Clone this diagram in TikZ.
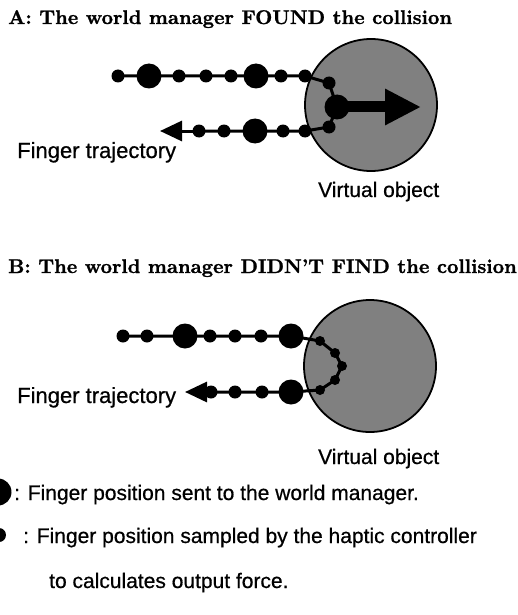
\documentclass[tikz,border=0pt]{standalone}
\usepackage{fontspec}
\newfontfamily\arialf{Liberation Sans}[FakeBold=0.6]
\newfontface\titlef{lmroman10-bold.otf}[FakeBold=1.2]
\usetikzlibrary{arrows.meta}
\definecolor{objgray}{RGB}{128,128,128}
\begin{document}
\begin{tikzpicture}[x=1pt,y=-1pt,
  bigdot/.style={circle,fill=black,minimum size=25pt,inner sep=0pt},
  smalldot/.style={circle,fill=black,minimum size=13pt,inner sep=0pt},
  tinydot/.style={circle,fill=black,minimum size=10pt,inner sep=0pt},
  traj/.style={line width=3pt},
  obj/.style={circle,draw=black,line width=1.8pt,fill=objgray,minimum size=132pt,inner sep=0pt},
  titletext/.style={anchor=base west,inner sep=0pt,font=\titlef\fontsize{19.8}{24}\selectfont},
  labeltext/.style={anchor=base west,inner sep=0pt,font=\arialf\fontsize{21}{25}\selectfont},
  fingertext/.style={labeltext,font=\arialf\fontsize{22}{26}\selectfont},
  headsmall/.style={-{Triangle[length=22pt,width=20pt]}},
  headforce/.style={-{Triangle[length=36pt,width=34pt]}}
]
\useasboundingbox (0,0) rectangle (518,615);
% ---------- Panel A ----------
\node[titletext] (ta) at (8,24) {A: The world manager FOUND the collision};
\node[obj] (oa) at (371,105) {};
\node[smalldot] (a1) at (118,76) {};
\node[bigdot]   (a2) at (149,76) {};
\node[smalldot] (a3) at (179,76) {};
\node[smalldot] (a4) at (206,76) {};
\node[smalldot] (a5) at (231,76) {};
\node[bigdot]   (a6) at (256,76) {};
\node[smalldot] (a7) at (281,76) {};
\node[smalldot] (a8) at (305,76) {};
\node[smalldot] (a9) at (329,83) {};
\node[bigdot]   (a10) at (337,107) {};
\node[smalldot] (a11) at (329,127) {};
\node[smalldot] (a12) at (305,131) {};
\node[smalldot] (a13) at (283,131) {};
\node[bigdot]   (a14) at (255,131) {};
\node[smalldot] (a15) at (224,131) {};
\node[smalldot] (a16) at (199,131) {};
\coordinate (atip) at (160,131);
\coordinate (fa) at (421,107);
\draw[traj] (a1.center) -- (a2.center) -- (a3.center) -- (a4.center) -- (a5.center)
  -- (a6.center) -- (a7.center) -- (a8.center) -- (a9.center) -- (a10.center)
  -- (a11.center) -- (a12.center) -- (a13.center) -- (a14.center) -- (a15.center)
  -- (a16.center);
\draw[traj,headsmall] (a16.center) -- (atip);
\draw[line width=11pt,headforce] (a10.center) -- (fa);
\node[fingertext] (fta) at (17,158) {Finger trajectory};
\node[labeltext] (voa) at (318,197) {Virtual object};
% ---------- Panel B ----------
\node[titletext] (tb) at (8,273) {B: The world manager DIDN’T FIND the collision};
\node[obj] (ob) at (370,366) {};
\node[smalldot] (b1) at (123,336) {};
\node[smalldot] (b2) at (147,336) {};
\node[bigdot]   (b3) at (185,336) {};
\node[smalldot] (b4) at (210,336) {};
\node[smalldot] (b5) at (235,336) {};
\node[smalldot] (b6) at (261,336) {};
\node[bigdot]   (b7) at (291,336) {};
\node[tinydot]  (b8) at (320,341) {};
\node[tinydot]  (b9) at (335,353) {};
\node[tinydot]  (b10) at (342,366) {};
\node[tinydot]  (b11) at (335,380) {};
\node[tinydot]  (b12) at (320,390) {};
\node[bigdot]   (b13) at (291,392) {};
\node[smalldot] (b14) at (262,392) {};
\node[smalldot] (b15) at (235,392) {};
\node[smalldot] (b16) at (211,392) {};
\coordinate (btip) at (185,392);
\draw[traj] (b1.center) -- (b2.center) -- (b3.center) -- (b4.center) -- (b5.center)
  -- (b6.center) -- (b7.center) -- (b8.center) -- (b9.center) -- (b10.center)
  -- (b11.center) -- (b12.center) -- (b13.center) -- (b14.center) -- (b15.center)
  -- (b16.center);
\draw[traj,headsmall] (b16.center) -- (btip);
\node[fingertext] (ftb) at (17,403) {Finger trajectory};
\node[labeltext] (vob) at (318,464) {Virtual object};
% ---------- Legend ----------
\node[bigdot,minimum size=27pt] (lg1) at (-2,492) {};
\node[labeltext] (lt1) at (14,500) {: Finger position sent to the world manager.};
\node[smalldot,minimum size=14pt] (lg2) at (-1,535) {};
\node[labeltext] (lt2) at (23,543) {: Finger position sampled by the haptic controller};
\node[labeltext] (lt3) at (49,588) {to calculates output force.};
\end{tikzpicture}
\end{document}
